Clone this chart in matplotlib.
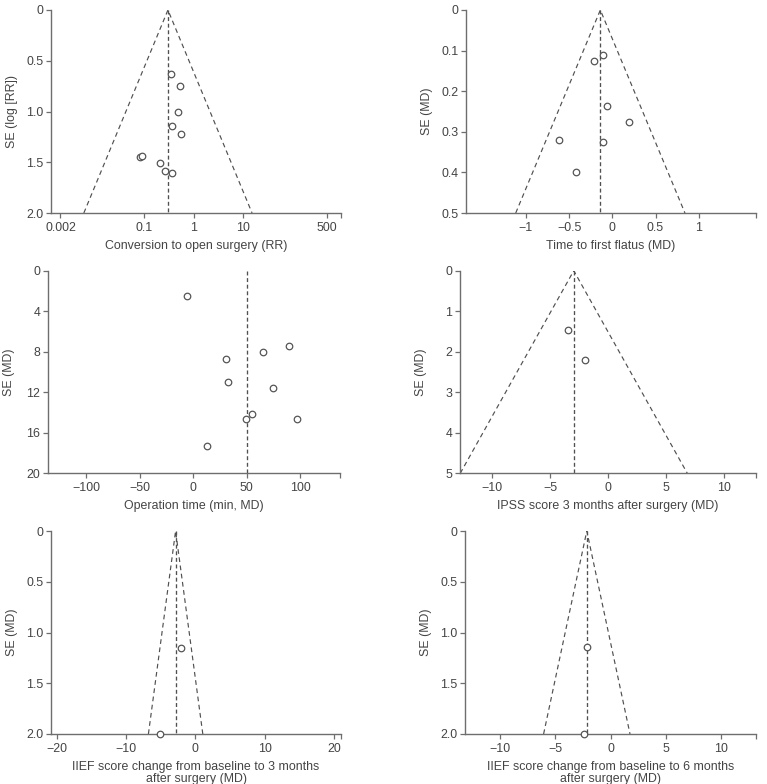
import numpy as np
import matplotlib
matplotlib.use('Agg')
import matplotlib.pyplot as plt
from matplotlib.ticker import FixedLocator

plt.rcParams['font.family'] = ['Liberation Sans', 'DejaVu Sans']
plt.rcParams['font.size'] = 8.9

TXT = '#444444'
LN = '#6e6e6e'

# Panel A: conversion to open surgery (RR, log scale)
conv_rr = [0.352, 0.52, 0.49, 0.358, 0.544, 0.082, 0.091, 0.211, 0.259, 0.358]
conv_se = [0.626, 0.75, 1.003, 1.144, 1.22, 1.452, 1.436, 1.511, 1.59, 1.61]
conv_pooled = 0.30

# Panel B: time to first flatus (MD)
flatus_md = [-0.112, -0.212, -0.058, 0.189, -0.622, -0.112, -0.421]
flatus_se = [0.111, 0.125, 0.236, 0.275, 0.320, 0.326, 0.400]
flatus_pooled = -0.139

# Panel C: operation time (min, MD)
optime_md = [-5.6, 30.3, 65.6, 89.4, 32.2, 74.4, 55.3, 49.7, 97.5, 12.5]
optime_se = [2.47, 8.68, 8.03, 7.47, 11.02, 11.55, 14.18, 14.67, 14.67, 17.27]
optime_pooled = 50.3

# Panel D: IPSS score 3 months after surgery (MD)
ipss_md = [-3.44, -1.97]
ipss_se = [1.47, 2.20]
ipss_pooled = -2.98

# Panel E: IIEF change to 3 months (MD)
iief3_md = [-2.1, -5.05]
iief3_se = [1.15, 2.0]
iief3_pooled = -2.84

# Panel F: IIEF change to 6 months (MD)
iief6_md = [-2.15, -2.39]
iief6_se = [1.14, 2.0]
iief6_pooled = -2.15

W, H = 767, 784
fig = plt.figure(figsize=(W / 100, H / 100), dpi=100)

panels = [
    dict(box=(51, 341, 10, 213), x=conv_rr, se=conv_se, pooled=conv_pooled, log=True,
         xlim=(10 ** -2.89, 10 ** 2.98), ylim=2.0, funnel=True,
         xticks=[0.002, 0.1, 1, 10, 500], xticklabels=['0.002', '0.1', '1', '10', '500'],
         yticks=[0, 0.5, 1.0, 1.5, 2.0], yticklabels=['0', '0.5', '1.0', '1.5', '2.0'],
         xlabel='Conversion to open surgery (RR)', ylabel='SE (log [RR])'),
    dict(box=(466, 756, 10, 213), x=flatus_md, se=flatus_se, pooled=flatus_pooled, log=False,
         xlim=(-1.695, 1.664), ylim=0.5, funnel=True,
         xticks=[-1, -0.5, 0, 0.5, 1], xticklabels=['\u22121', '\u22120.5', '0', '0.5', '1'],
         yticks=[0, 0.1, 0.2, 0.3, 0.4, 0.5], yticklabels=['0', '0.1', '0.2', '0.3', '0.4', '0.5'],
         xlabel='Time to first flatus (MD)', ylabel='SE (MD)'),
    dict(box=(48, 340, 270.7, 473.3), x=optime_md, se=optime_se, pooled=optime_pooled, log=False,
         xlim=(-136, 137.5), ylim=20, funnel=False,
         xticks=[-100, -50, 0, 50, 100], xticklabels=['\u2212100', '\u221250', '0', '50', '100'],
         yticks=[0, 4, 8, 12, 16, 20], yticklabels=['0', '4', '8', '12', '16', '20'],
         xlabel='Operation time (min, MD)', ylabel='SE (MD)'),
    dict(box=(460, 756, 270.7, 473.3), x=ipss_md, se=ipss_se, pooled=ipss_pooled, log=False,
         xlim=(-12.8, 12.75), ylim=5, funnel=True,
         xticks=[-10, -5, 0, 5, 10], xticklabels=['\u221210', '\u22125', '0', '5', '10'],
         yticks=[0, 1, 2, 3, 4, 5], yticklabels=['0', '1', '2', '3', '4', '5'],
         xlabel='IPSS score 3 months after surgery (MD)', ylabel='SE (MD)'),
    dict(box=(51, 341, 531, 734), x=iief3_md, se=iief3_se, pooled=iief3_pooled, log=False,
         xlim=(-20.8, 21.0), ylim=2.0, funnel=True,
         xticks=[-20, -10, 0, 10, 20], xticklabels=['\u221220', '\u221210', '0', '10', '20'],
         yticks=[0, 0.5, 1.0, 1.5, 2.0], yticklabels=['0', '0.5', '1.0', '1.5', '2.0'],
         xlabel='IIEF score change from baseline to 3 months\nafter surgery (MD)', ylabel='SE (MD)'),
    dict(box=(465, 756, 531, 734), x=iief6_md, se=iief6_se, pooled=iief6_pooled, log=False,
         xlim=(-13.2, 13.2), ylim=2.0, funnel=True,
         xticks=[-10, -5, 0, 5, 10], xticklabels=['\u221210', '\u22125', '0', '5', '10'],
         yticks=[0, 0.5, 1.0, 1.5, 2.0], yticklabels=['0', '0.5', '1.0', '1.5', '2.0'],
         xlabel='IIEF score change from baseline to 6 months\nafter surgery (MD)', ylabel='SE (MD)'),
]

for p in panels:
    l, r, t, b = p['box']
    ax = fig.add_axes([l / W, 1 - b / H, (r - l) / W, (b - t) / H])
    if p['log']:
        ax.set_xscale('log')
    ax.set_xlim(*p['xlim'])
    ax.set_ylim(p['ylim'], 0)

    # funnel and pooled line
    se_max = p['ylim']
    ax.plot([p['pooled'], p['pooled']], [0, se_max], ls=(0, (3, 2)), color='#505050', lw=0.95)
    if p['funnel']:
        if p['log']:
            lo = p['pooled'] * np.exp(-1.96 * se_max)
            hi = p['pooled'] * np.exp(1.96 * se_max)
        else:
            lo = p['pooled'] - 1.96 * se_max
            hi = p['pooled'] + 1.96 * se_max
        ax.plot([lo, p['pooled'], hi], [se_max, 0, se_max], ls=(0, (4, 3)), color='#505050', lw=0.85)

    ax.scatter(p['x'], p['se'], s=22, facecolors='white', edgecolors='#555555', linewidths=0.9, zorder=3,
               clip_on=False)

    for s in ['top', 'right']:
        ax.spines[s].set_visible(False)
    for s in ['left', 'bottom']:
        ax.spines[s].set_color(LN)
        ax.spines[s].set_linewidth(1.0)

    ax.xaxis.set_major_locator(FixedLocator(p['xticks']))
    ax.set_xticklabels(p['xticklabels'])
    ax.xaxis.set_minor_locator(FixedLocator([p['xlim'][1]]))
    ax.xaxis.set_minor_formatter(plt.NullFormatter())
    ax.set_yticks(p['yticks'])
    ax.set_yticklabels(p['yticklabels'])
    ax.yaxis.set_minor_locator(FixedLocator([]))
    ax.tick_params(axis='both', which='both', length=3.5, width=0.9, color=LN, labelcolor=TXT, pad=2)
    ax.tick_params(axis='x', which='major', pad=3)

    ax.set_xlabel(p['xlabel'], color=TXT, linespacing=1.05)
    ax.set_ylabel(p['ylabel'], color=TXT)
    wpx, hpx = r - l, b - t
    ax.xaxis.set_label_coords(0.5, -27 / hpx)
    ax.xaxis.label.set_va('top')
    ax.yaxis.set_label_coords(-33 / wpx, 0.5)

fig.savefig('out.png', dpi=100)
